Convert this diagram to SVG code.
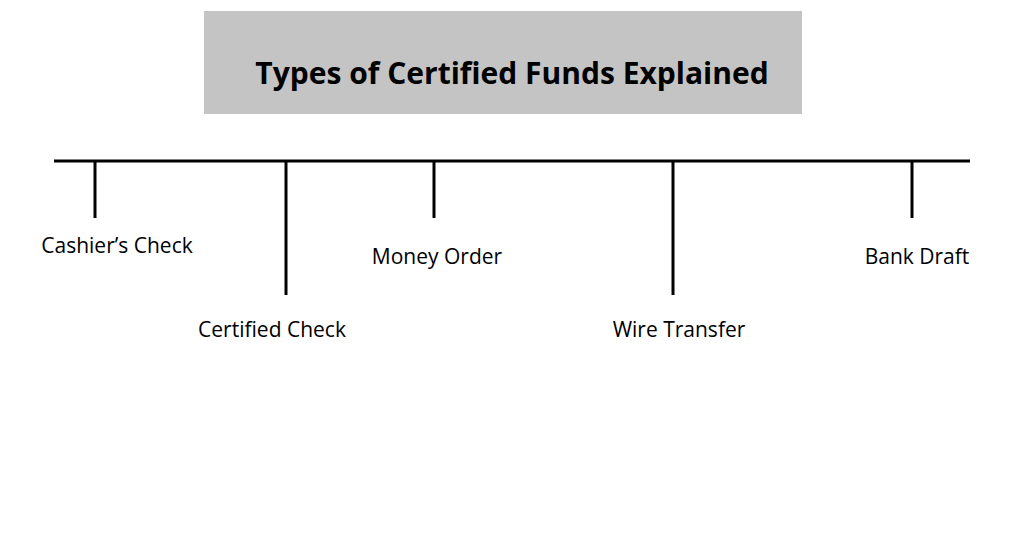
<svg xmlns="http://www.w3.org/2000/svg" width="1024" height="538" viewBox="0 0 1024 538">
<style>
.l{stroke:#000;stroke-width:3;fill:none}
.t{font-family:"Open Sans","Liberation Sans",sans-serif;font-size:21px;fill:#000}
</style>
<rect width="1024" height="538" fill="#fff"/>
<g id="title"><rect x="204" y="11" width="598" height="103" fill="#c4c4c4"/>
<text x="512" y="84" text-anchor="middle" style="font-family:'Open Sans','Liberation Sans',sans-serif;font-size:30px;font-weight:bold">Types of Certified Funds Explained</text></g>
<g id="connectors">
<line class="l" x1="54" y1="161" x2="970" y2="161"/>
<line class="l" x1="95" y1="161" x2="95" y2="218"/>
<line class="l" x1="286" y1="161" x2="286" y2="295"/>
<line class="l" x1="434" y1="161" x2="434" y2="218"/>
<line class="l" x1="673" y1="161" x2="673" y2="295"/>
<line class="l" x1="912" y1="161" x2="912" y2="218"/>
</g>
<g id="n1"><text class="t" x="117" y="253" text-anchor="middle">Cashier’s Check</text></g>
<g id="n2"><text class="t" x="272" y="337" text-anchor="middle">Certified Check</text></g>
<g id="n3"><text class="t" x="437" y="264" text-anchor="middle">Money Order</text></g>
<g id="n4"><text class="t" x="679" y="337" text-anchor="middle">Wire Transfer</text></g>
<g id="n5"><text class="t" x="917" y="264" text-anchor="middle">Bank Draft</text></g>
</svg>
